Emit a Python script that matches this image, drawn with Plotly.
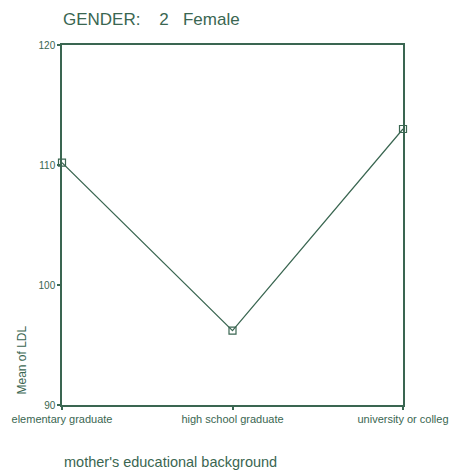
import plotly.graph_objects as go

categories = ["elementary graduate", "high school graduate", "university or colleg"]
mean_ldl = [110.2, 96.2, 113.0]
y_ticks = [90, 100, 110, 120]

C = "#3a6651"
FONT = "Liberation Sans Narrow, Arial Narrow, Liberation Sans, Arial"

fig = go.Figure()
fig.add_trace(go.Scatter(
    x=[0, 1, 2], y=mean_ldl, mode="lines+markers",
    line=dict(color=C, width=1.3),
    marker=dict(symbol="square-open", size=7, color=C, line=dict(width=1.2, color=C)),
    cliponaxis=False, showlegend=False,
))

fig.update_layout(
    width=458, height=474,
    margin=dict(l=54, r=63, t=37, b=77),
    paper_bgcolor="white", plot_bgcolor="white",
    font=dict(family=FONT, color=C),
    xaxis=dict(range=[0, 2], tickvals=[0, 1, 2], ticktext=categories, automargin=False,
               showgrid=False, zeroline=False, showline=True, linecolor=C, linewidth=1.5,
               mirror=True, ticks="outside", ticklen=3, tickcolor=C, tickwidth=2,
               tickfont=dict(size=11, family=FONT, color=C)),
    yaxis=dict(range=[90, 120], tickvals=y_ticks, automargin=False,
               showgrid=False, zeroline=False, showline=True, linecolor=C, linewidth=1.5,
               mirror=True, ticks="outside", ticklen=3, tickcolor=C, tickwidth=2,
               tickfont=dict(size=10, family=FONT, color=C)),
    annotations=[
        dict(text="GENDER:&nbsp;&nbsp;&nbsp;&nbsp;2&nbsp;&nbsp;&nbsp;Female", xref="paper", yref="paper",
             x=0, xshift=-1, y=1.0, yshift=37, xanchor="left", yanchor="top", showarrow=False,
             font=dict(size=17, family=FONT, color=C)),
        dict(text="Mean of LDL", xref="paper", yref="paper", textangle=-90,
             x=0, xshift=-41, y=0, yshift=8, xanchor="center", yanchor="bottom", showarrow=False,
             font=dict(size=12, family=FONT, color=C)),
        dict(text="mother's educational background", xref="paper", yref="paper",
             x=0, y=0, yshift=-47, xanchor="left", yanchor="top", showarrow=False,
             font=dict(size=14.5, family=FONT, color=C)),
    ],
)

fig.write_html("out.html")
